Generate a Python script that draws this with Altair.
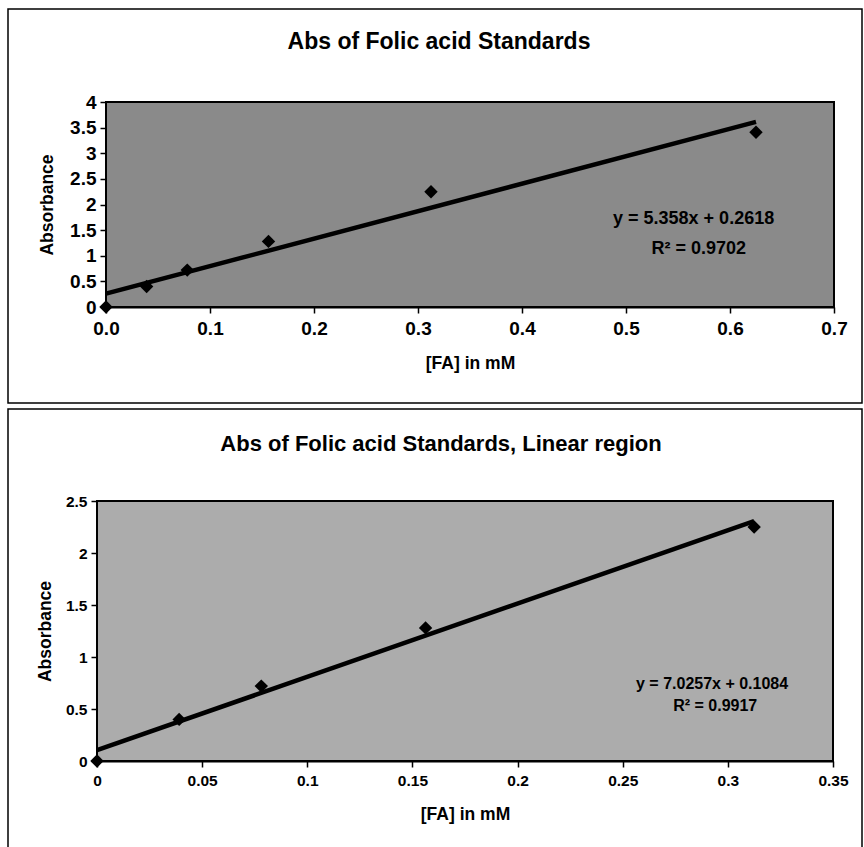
import altair as alt
import pandas as pd

# ---- data ----
conc_all = [0.0, 0.0390625, 0.078125, 0.15625, 0.3125, 0.625]
abs_all = [0.0, 0.40, 0.72, 1.28, 2.25, 3.41]
conc_lin = [0.0, 0.0390625, 0.078125, 0.15625, 0.3125]
abs_lin = [0.0, 0.40, 0.72, 1.28, 2.25]

titles = ["Abs of Folic acid Standards", "Abs of Folic acid Standards, Linear region"]
eq_top = ["y = 5.358x + 0.2618", "R\u00b2 = 0.9702"]
eq_top_x = [0.565, 0.57]
eq_top_y = [1.72, 1.13]
eq_bot = ["y = 7.0257x + 0.1084", "R\u00b2 = 0.9917"]
eq_bot_x = [0.2925, 0.294]
eq_bot_y = [0.74, 0.53]

x_ticks_top = [0.0, 0.1, 0.2, 0.3, 0.4, 0.5, 0.6, 0.7]
y_ticks_top = [0, 0.5, 1, 1.5, 2, 2.5, 3, 3.5, 4]
x_ticks_bot = [0, 0.05, 0.1, 0.15, 0.2, 0.25, 0.3, 0.35]
y_ticks_bot = [0, 0.5, 1, 1.5, 2, 2.5]

FONT = "Liberation Sans"

df_top = pd.DataFrame({"x": conc_all, "y": abs_all})
df_bot = pd.DataFrame({"x": conc_lin, "y": abs_lin})
ann_top = pd.DataFrame({"x": eq_top_x, "y": eq_top_y, "t": eq_top})
ann_bot = pd.DataFrame({"x": eq_bot_x, "y": eq_bot_y, "t": eq_bot})
one = pd.DataFrame({"k": [0]})


def panel(df, ann, title, xdom, ydom, xt, yt, xfmt, yfmt, W, H, x0,
          box, title_pos, title_size, xtitle_y, ytitle_x, fill, lab_size,
          eq_size):
    xs = alt.Scale(domain=xdom, nice=False, zero=False, range=[x0, W])
    ys = alt.Scale(domain=ydom, nice=False, zero=False)
    xax = alt.Axis(values=xt, format=xfmt, title="[FA] in mM", grid=False,
                   domainColor="black", domainWidth=2, tickColor="black",
                   tickSize=6, tickWidth=1.5, labelFont=FONT, labelFontSize=lab_size,
                   labelFontWeight="bold", labelColor="black", labelPadding=6,
                   labelFlush=False, labelOverlap=False, labelBound=False,
                   titleFont=FONT, titleFontSize=17.5, titleFontWeight="bold",
                   titleColor="black", titleX=(x0 + W) / 2, titleY=xtitle_y,
                   titleBaseline="middle", titleAlign="center")
    yax = alt.Axis(values=yt, format=yfmt, title="Absorbance", grid=False,
                   offset=-x0,
                   domainColor="black", domainWidth=2, tickColor="black",
                   tickSize=6, tickWidth=1.5, labelFont=FONT, labelFontSize=lab_size,
                   labelFontWeight="bold", labelColor="black", labelPadding=4,
                   labelFlush=False, labelOverlap=False, labelBound=False,
                   labelLineHeight=lab_size,
                   titleFont=FONT, titleFontSize=17.5, titleFontWeight="bold",
                   titleColor="black", titleX=ytitle_x, titleY=H / 2,
                   titleBaseline="middle", titleAlign="center")

    base = alt.Chart(df)
    bg = alt.Chart(one).mark_rect(fill=fill, stroke="black",
                                  strokeWidth=2).encode(
        x=alt.value(x0), x2=alt.value(W), y=alt.value(0), y2=alt.value(H))
    pts = base.mark_point(shape="diamond", filled=True, color="black",
                          size=180, opacity=1).encode(
        x=alt.X("x:Q", scale=xs, axis=xax),
        y=alt.Y("y:Q", scale=ys, axis=yax))
    fit = base.transform_regression("x", "y", method="linear").mark_line(
        color="black", strokeWidth=4.5).encode(
        x=alt.X("x:Q", scale=xs, axis=xax),
        y=alt.Y("y:Q", scale=ys, axis=yax))
    txt = alt.Chart(ann).mark_text(font=FONT, fontSize=eq_size, fontWeight="bold",
                                   color="black", align="center",
                                   baseline="middle").encode(
        x=alt.X("x:Q", scale=xs, axis=xax),
        y=alt.Y("y:Q", scale=ys, axis=yax), text="t:N")
    frame = alt.Chart(one).mark_rect(fill=None, stroke="black",
                                     strokeWidth=1.5).encode(
        x=alt.value(box[0]), x2=alt.value(box[1]),
        y=alt.value(box[2]), y2=alt.value(box[3]))
    ttl = alt.Chart(one).mark_text(font=FONT, fontSize=title_size, fontWeight="bold",
                                   color="black", align="center",
                                   baseline="middle", text=title).encode(
        x=alt.value(title_pos[0]), y=alt.value(title_pos[1]))
    return alt.layer(frame, bg, ttl, fit, pts, txt).properties(
        width=W, height=H,
        view=alt.ViewBackground(fill=None, stroke=None))


top = panel(df_top, ann_top, titles[0], [0, 0.7], [0, 4], x_ticks_top,
            y_ticks_top, ".1f", ".1~f", 737, 205, 9,
            box=(-89, 765, -93, 301), title_pos=(342, -60), title_size=23,
            xtitle_y=56, ytitle_x=-59, fill="#8a8a8a", lab_size=19, eq_size=18)
bot = panel(df_bot, ann_bot, titles[1], [0, 0.35], [0, 2.5], x_ticks_bot,
            y_ticks_bot, ".2~f", ".1~f", 736, 260, 0,
            box=(-89, 765, -92, 352), title_pos=(344, -57), title_size=22,
            xtitle_y=53, ytitle_x=-52, fill="#acacac", lab_size=15.5, eq_size=16)

chart = alt.vconcat(top, bot, spacing=4).properties(
    padding={"left": 7, "top": 8, "right": 0, "bottom": 0},
    background="white"
).configure_axis(labelOverlap=False)

chart.save("out.html", embed_options={"renderer": "svg", "actions": False})
